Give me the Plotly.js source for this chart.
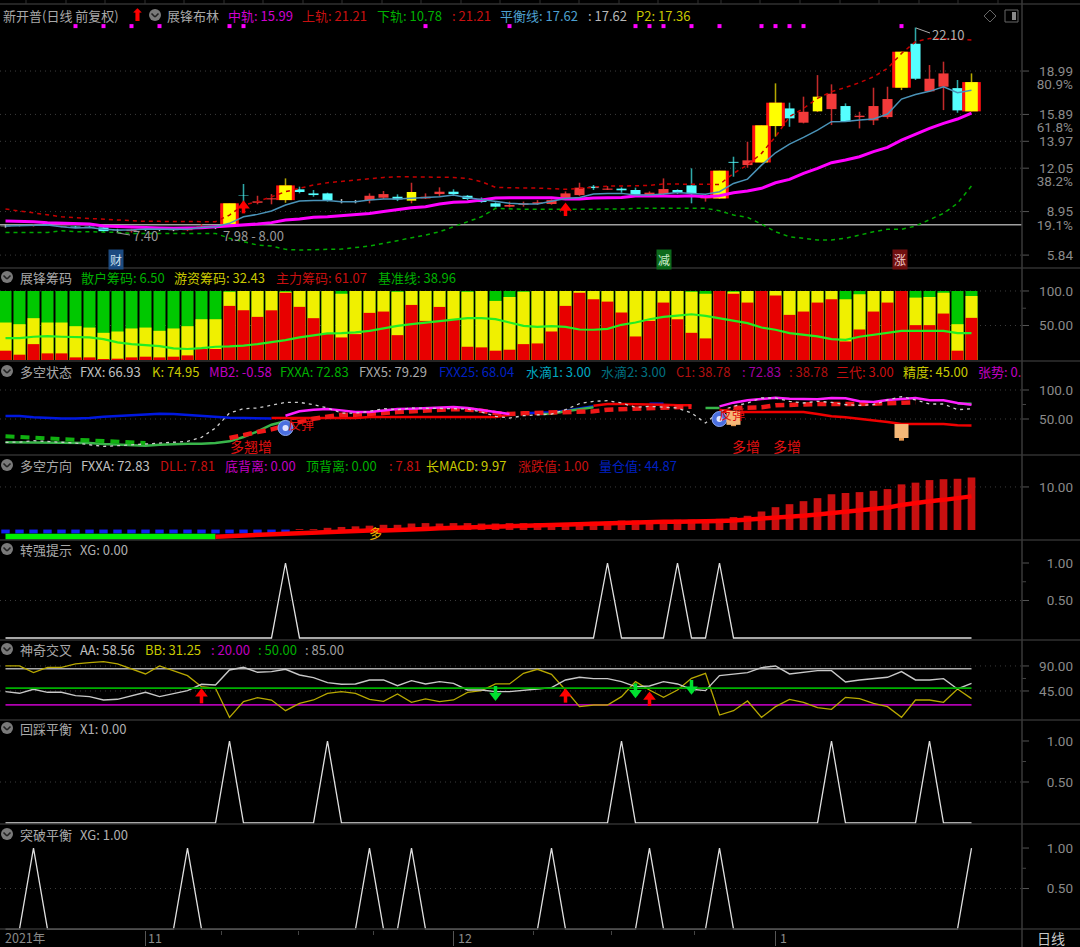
<!DOCTYPE html>
<html><head><meta charset="utf-8">
<script src="https://cdn.plot.ly/plotly-3.0.1.min.js"></script>
<style>html,body{margin:0;padding:0;background:#000}#c{width:1080px;height:947px}</style></head>
<body><div id="c"></div>
<script>
const W=1080,H=947,STEP=14,X0=5.5,RIGHT=1022;
const gap=n=>Array(n).fill(null);
const idx=Array.from({length:70},(_,i)=>i);

const kindList=['w','w','r','c','r','c','c','c','w','r','w','w','w','r','r','w','B','c','r','r','B','c','c','c','w','w','r','r','c','y','r','r','c','c','c','c','r','r','r','r','r','r','c','r','c','c','r','r','c','c','r','B','c','r','B','B','c','r','y','r','c','r','r','r','B','c','r','r','c','B'];
const open =[7.90,7.95,7.93,8.02,7.87,7.88,7.87,7.82,7.60,7.55,7.68,7.64,7.62,7.62,7.81,7.78,8.06,10.10,9.58,9.82,9.77,10.54,10.25,10.25,9.70,9.64,9.77,9.94,10.01,9.73,9.89,10.20,10.37,10.08,9.82,9.54,9.30,9.42,9.49,9.49,9.87,10.13,10.73,10.51,10.59,10.49,10.11,10.20,10.49,10.82,9.89,9.89,12.50,12.27,12.46,15.06,16.32,15.30,16.11,16.27,16.49,15.70,15.46,15.70,17.80,20.94,17.54,17.87,17.77,16.11];
const high =[8.02,8.00,8.02,8.06,7.95,7.92,7.92,7.85,7.72,7.72,7.75,7.72,7.72,7.72,8.06,7.88,9.54,10.92,10.08,10.20,11.32,10.73,10.49,10.30,9.85,9.78,10.25,10.42,10.18,11.01,10.25,10.68,10.54,10.13,9.96,9.61,9.66,9.66,9.77,9.82,10.39,11.01,10.85,10.77,10.68,10.66,10.39,11.32,10.54,12.04,10.13,11.87,12.87,13.94,15.11,18.11,16.73,17.16,18.70,18.04,16.68,16.08,17.80,17.87,20.37,22.10,19.42,19.66,18.35,18.82];
const low  =[7.80,7.90,7.88,7.95,7.83,7.76,7.77,7.50,7.40,7.45,7.55,7.55,7.55,7.55,7.72,7.70,8.00,9.58,9.47,9.47,9.58,10.25,10.01,9.66,9.54,9.54,9.54,9.85,9.70,9.54,9.85,10.06,10.06,9.77,9.58,9.25,9.25,9.30,9.42,9.44,9.77,10.08,10.49,10.49,10.30,10.08,10.01,10.13,10.20,9.54,9.66,9.85,11.44,12.08,12.46,14.30,15.01,15.25,16.06,15.13,15.35,14.89,15.13,15.58,17.63,18.35,17.49,16.20,16.01,16.11];
const close=[7.93,7.97,7.99,7.98,7.92,7.80,7.82,7.55,7.62,7.66,7.70,7.66,7.67,7.72,7.88,7.82,9.54,10.07,9.68,9.90,10.82,10.35,10.13,9.77,9.66,9.67,10.08,10.20,9.82,10.35,10.01,10.37,10.20,9.85,9.63,9.30,9.42,9.54,9.61,9.77,10.25,10.66,10.63,10.59,10.47,10.13,10.30,10.56,10.30,10.25,10.06,11.87,12.44,12.61,15.11,16.73,15.61,16.08,17.16,17.37,15.39,15.80,16.49,16.99,20.37,18.44,18.44,18.82,16.18,18.20];
const midBand=[8.27,8.27,8.23,8.16,8.13,8.06,8.06,7.92,7.87,7.87,7.82,7.77,7.75,7.75,7.80,7.87,7.92,7.96,8.06,8.16,8.35,8.42,8.54,8.58,8.66,8.75,8.82,8.96,9.11,9.23,9.30,9.49,9.61,9.66,9.77,9.92,9.94,9.94,9.94,9.94,9.85,9.85,9.92,9.96,9.96,10.06,10.08,10.06,10.04,10.08,10.01,10.08,10.30,10.42,10.61,11.01,11.25,11.68,12.04,12.44,12.63,12.87,13.23,13.54,14.06,14.49,14.89,15.25,15.56,15.99];
const balance=[7.92,7.94,7.99,7.99,7.87,7.77,7.82,7.68,7.63,7.63,7.70,7.68,7.68,7.68,7.82,7.87,8.11,8.58,8.75,8.99,9.42,9.70,9.75,9.75,9.66,9.66,9.77,9.85,9.85,9.89,9.96,10.01,10.13,9.94,9.82,9.66,9.54,9.49,9.49,9.68,9.89,9.96,10.20,10.25,10.25,10.13,10.13,10.20,10.32,10.25,10.18,10.37,10.96,11.27,12.27,13.15,13.77,14.25,14.77,15.37,15.39,15.49,15.56,15.92,16.99,17.32,17.54,17.87,17.44,17.62];
const upperBand=[9.13,8.99,8.87,8.70,8.58,8.51,8.46,8.39,8.35,8.27,8.25,8.25,8.23,8.23,8.23,8.23,8.70,9.42,9.66,10.01,10.37,10.61,10.85,11.01,11.11,11.20,11.32,11.39,11.44,11.44,11.44,11.44,11.39,11.32,11.08,10.68,10.63,10.63,10.63,10.61,10.54,10.61,10.68,10.77,10.77,10.80,10.82,10.92,10.92,10.92,10.89,10.89,11.68,12.27,13.11,14.30,15.73,16.32,17.04,17.51,17.82,18.16,18.58,19.18,20.25,21.08,21.32,21.32,21.27,21.21];
const lowerBand=[7.46,7.46,7.46,7.46,7.58,7.51,7.51,7.51,7.46,7.39,7.39,7.39,7.39,7.39,7.39,7.39,7.04,6.80,6.56,6.49,6.25,6.20,6.20,6.25,6.27,6.39,6.49,6.68,6.87,7.11,7.27,7.51,7.87,8.23,8.58,9.18,9.13,9.11,9.11,9.11,9.11,9.11,9.11,9.11,9.13,9.18,9.18,9.18,9.18,9.18,9.18,9.01,8.70,8.54,8.06,7.51,7.15,7.04,6.92,6.92,7.04,7.27,7.51,7.68,7.68,7.92,8.35,8.82,9.54,10.78];
const signalDots=[5,7,9,11,16,17,30,36,45,46,47,49,51,54,55,56,57,64];

const mainChipTop=[13.5,7.7,23,9.6,9.6,3.8,3.8,1.4,1.9,3.8,4.8,3.8,4.8,6.7,15.9,15.9,78.4,72.1,62.5,72,97.6,77,60.6,37.5,32.7,37.5,68.3,70.2,36,79.8,56.7,76.9,59,19.2,18.3,13.5,14.9,23,24,41.3,78.4,97.6,88,84.6,68.8,34.1,56.7,83.2,59,39.4,31.3,100,96,83.2,100,93.3,65.4,70.2,83.2,88,26.9,44.2,70.2,83.2,100,50.5,50.5,67.3,13.5,61.07];
const hotChipTop=[54.3,51.9,60.6,54.3,54.3,49,47,39.4,41.3,45.7,47,42.3,45.7,49,59.1,59.1,99,100,100,100,99,100,100,100,96,100,100,100,99,100,100,100,100,99,100,85.6,91.3,99,100,100,100,100,100,100,100,100,100,100,100,99,96,100,99,100,100,100,100,100,100,100,88,95.2,100,100,100,90.4,91.3,97.6,51.9,92.8];
const retailChipTop=idx.map(()=>100);
const chipBase=[31.7,31.7,33.7,34.6,33.7,33.7,32.7,30.3,25.5,23.1,22.1,20.2,16.8,15.9,17.3,19.2,19.7,20.7,23.1,25.5,28.8,32.7,36.1,38.5,38.9,39.9,42.3,46.2,49.5,51.9,54.3,56.7,59.1,60.6,60.6,59.1,54.3,49.5,48.1,49,48.1,44.2,43.8,45.2,51,54.3,59.1,62.5,64.4,66.3,63.9,60.6,57.7,53.4,47.1,43.8,38.9,36.5,34.1,30.3,29.3,33.7,36.5,39.4,42.3,42.3,42.3,42.3,38.9,38.96];

const fxx25=[55.2,55.2,52.9,51.7,51.1,51.1,51.7,54,55.2,56.3,58.6,59.2,58.6,56.9,56.3,54.6,52.3,51.7,51.1,51.1,...gap(17),59.8,60.3,61.5,64.4,67.8,71.8,null,null,null,76.4,76.4,null,null,70.7,...gap(19)];
const fxxa=[9.8,9.8,9.8,9.8,9.8,9.8,8.6,6.9,5.7,4.6,4,5.7,6.9,7.5,7.5,8.6,11.5,19,28.7,40.2,46,...gap(17),58.6,59.2,63.2,66.1,70.1,...gap(7),69,69,...gap(16),76.4,76.4];
const mb2=[...gap(20),55.7,63.2,66.1,67.2,64.9,62.1,62.1,64.4,67.2,67.8,69,70.7,70.7,69,66.1,62.1,58.6,...gap(14),71.8,78.2,82.2,84.5,86.8,85,83.9,83.9,86.2,85.6,80.5,79.3,82.8,85,86.2,82.2,82.2,77.6,74.7];
const fxx=[9.8,10.3,12.6,11.5,10.9,8.6,5.7,2.9,4,5.7,6.9,8,9.8,11.5,18.4,34.5,60.3,67.8,69,73.6,78.7,78.7,74.7,69,60.3,60.3,63.2,67.8,66.1,69,69,69,67.8,67.2,62.1,54.6,51.7,55.7,57.5,58.6,66.1,76.4,80.5,81.6,77.6,70.1,71.8,70.1,69,60.3,43.1,63.2,71.8,77.6,86.2,86.2,80.5,77.6,80.5,78.7,74.7,73.6,74.7,82.8,88.5,82.8,75.9,75.9,66.1,67.8];
const c1=[...gap(19),51.7,51.7,51.7,51.7,51.7,51.7,51.7,53.4,53.4,53.4,53.4,53.4,53.4,53.4,53.4,53.4,53.4,57.5,...gap(5),73,75.9,75.9,75.9,75.9,74.7,73.6,73.6,null,66.1,62.1,62.1,62.1,62.1,62.1,62.1,58.6,54.6,52.9,50.6,48.3,44.8,41.4,41.4,41.4,41.4,39.1,38.78];
const kLine=[...gap(16),17.2,23,27.6,32.2,39.1,44.8,50.6,53.4,57.5,57.5,59.8,60.3,62.1,63.2,64.4,66.1,67.2,66.1,64.4,60.3,58.6,59.8,60.3,61.5,62.1,62.1,63.2,66.1,67.2,68.4,69.5,70.7,70.7,71.3,null,null,69,69,70.1,73.6,74.7,74.7,75.9,75.9,75,76,76.5,77.6,78.7,78.7,...gap(4)];
const kEarly=[20.1,19,17.2,16.7,15.5,14.4,12.6,12.1,10.9,9.8,8.6,...gap(59)];

const macdBars=[...gap(20),0,.2,.2,.5,.7,.85,1.0,1.2,1.2,1.5,1.6,1.5,1.6,1.6,1.5,1.5,1.6,1.6,1.6,1.6,1.6,1.8,1.9,1.9,2.2,2.2,2.2,2.3,2.4,2.4,2.2,2.6,3.0,3.3,4.3,5.3,6.0,6.7,7.4,8.3,8.6,8.8,9.1,9.5,10.6,11.0,11.6,11.8,11.9,12.2];
const dll=[...gap(15),-1.55,-1.4,-1.3,-1.2,-1.0,-1.0,-.8,-.7,-.6,-.4,-.3,-.1,-.1,.1,.2,.25,.4,.5,.7,.8,.9,1.0,1.1,1.1,1.2,1.3,1.4,1.5,1.5,1.6,1.7,1.8,1.9,1.9,1.9,2.0,2.1,2.2,2.4,2.5,2.8,3.0,3.3,3.6,3.9,4.2,4.5,4.8,5.2,5.8,6.3,6.7,7.0,7.4,7.81];
const dllEarly=[-1.55,-1.55,-1.55,-1.55,-1.55,-1.55,-1.55,-1.55,-1.55,-1.55,-1.55,-1.55,-1.55,-1.55,-1.55,-1.55,...gap(54)];
const positionBars=[.9,.9,.9,.9,.9,.9,.9,.9,.9,.9,.9,.9,.9,.9,.9,.9,.9,.9,.9,.9,.9,...gap(49)];

const aa=[43.8,40.8,48,42.6,42.6,36.6,34.8,28.8,30,36.6,42.6,34.8,39.6,45.6,57,55.8,82.8,87.6,78.6,79.8,84,73.8,69,60,57,57.6,64.8,64.8,54.6,63.6,57.6,61.8,58.8,46.8,46.8,43.8,43.8,46.8,48.6,51,64.8,69.6,67.2,67.2,61.8,52.8,54,61.8,57.6,48,45.6,72.6,75,78,87,90,75.6,78,81.6,81.6,61.2,64.8,67.2,69.6,79.8,64.8,64.8,67.2,48.6,58.56];
const bb=[90,90,78,87.6,87.6,93.6,96,97.8,93.6,84,75.6,90,81.6,72.6,52.8,49.8,-2.4,25.8,33,28.8,9.6,22.8,28.8,40.8,43.8,40.8,30,26.4,39.6,24.6,30.6,25.8,28.8,42.6,45.6,57.6,57.6,76.8,84,75,46.8,16.8,19.8,19.8,34.8,61.8,46.8,33.6,46.8,67.8,76.8,1.8,9.6,27,-2.4,16.8,30,24.6,15,12,33.6,31.2,22.8,16.8,-2.4,28.8,28.8,24.6,48.6,31.25];
const ref20=idx.map(()=>20),ref50=idx.map(()=>50),ref85=idx.map(()=>85);
const strongPeaks=[20,43,48,51], pullbackPeaks=[16,23,44,59,66], breakoutPeaks=[2,13,26,29,39,46,51,69];

const panels=[
 {top:4,bot:267,vTop:23.78,vBot:4.99,tv:[18.99,15.89,13.97,12.05,8.95,5.84,18.06,15.0,11.14,8.0],tt:['18.99','15.89','13.97','12.05','8.95','5.84','80.9%','61.8%','38.2%','19.1%'],grid:[18.99,15.89,13.97,12.05,8.95,5.84],marks:[18.99,15.89,13.97,12.05,8.95,5.84],minor:[]},
 {top:272,bot:362,vTop:127.5,vBot:-2.9,tv:[100,50],tt:['100.0','50.00'],grid:[100,50],marks:[100,50],minor:[75]},
 {top:372,bot:455,vTop:131,vBot:-12,tv:[100,50],tt:['100.0','50.00'],grid:[100,50],marks:[100,50],minor:[75]},
 {top:462,bot:540,vTop:15.8,vBot:-2.33,tv:[10],tt:['10.00'],grid:[10],marks:[10],minor:[]},
 {top:545,bot:640,vTop:1.24,vBot:-.027,tv:[1,.5],tt:['1.00','0.50'],grid:[.5],marks:[1,.5],minor:[.75]},
 {top:645,bot:720,vTop:127.7,vBot:-7.2,tv:[90,45],tt:['90.00','45.00'],grid:[90,45],marks:[90,45],minor:[67.5]},
 {top:725,bot:824,vTop:1.195,vBot:-.012,tv:[1,.5],tt:['1.00','0.50'],grid:[.5],marks:[1,.5],minor:[.75]},
 {top:832,bot:930,vTop:1.198,vBot:-.012,tv:[1,.5],tt:['1.00','0.50'],grid:[.5],marks:[1,.5],minor:[.75]}
];
const rule=[268,361,455,540,640,720,824,929];

const T=[],shapes=[],ann=[];
const ya=n=>n===1?'y':'y'+n;
function line(y,n,color,width,dash,extra){T.push(Object.assign({type:'scatter',mode:'lines',x:idx,y,yaxis:ya(n),line:{color,width,dash:dash||'solid'},connectgaps:false,hoverinfo:'skip'},extra||{}));}
function bars(xs,y,base,n,color,w){T.push({type:'bar',x:xs,y,base,yaxis:ya(n),width:w,marker:{color,line:{width:0}},hoverinfo:'skip'});}
function arrow(i,tail,tip,head,n,color){
  T.push({type:'scatter',mode:'lines',x:[i,i],y:[tail,tip],yaxis:ya(n),line:{color,width:3.5},hoverinfo:'skip'});
  T.push({type:'scatter',mode:'markers',x:[i],y:[head],yaxis:ya(n),marker:{symbol:tip>tail?'triangle-up':'triangle-down',size:11,color},hoverinfo:'skip'});
}
function label(x,y,text,color,o){o=o||{};ann.push({xref:'paper',yref:'paper',x:x/W,y:1-y/H,text,showarrow:false,xanchor:o.anchor||'left',yanchor:'middle',align:'left',borderpad:o.pad||0,bgcolor:o.bg,font:{family:o.family||'"Noto Sans CJK SC","Noto Sans",sans-serif',size:o.size||13,color}});}
function pxLine(x0,y0,x1,y1,color,w){shapes.push({type:'line',xref:'paper',yref:'paper',x0:x0/W,x1:x1/W,y0:1-y0/H,y1:1-y1/H,line:{color,width:w||1},layer:'above'});}
function icon(x,y){
  shapes.push({type:'circle',xref:'paper',yref:'paper',x0:(x-6)/W,x1:(x+6)/W,y0:1-(y+6)/H,y1:1-(y-6)/H,fillcolor:'#7a7a7a',line:{width:0},layer:'above'});
  pxLine(x-3.5,y-1.5,x,y+2,'#222',1.6);pxLine(x+3.5,y-1.5,x,y+2,'#222',1.6);
}

/* ---- main: candles ---- */
const pick=(k)=>idx.filter(i=>kindList[i]===k);
const wickCol={w:'#bbbbbb',r:'#c22a2a',c:'#2fa8a8',y:'#c22a2a',B:'#b5a800'};
['w','r','c','y','B'].forEach(k=>{const s=pick(k);bars(s,s.map(i=>high[i]-low[i]),s.map(i=>low[i]),1,wickCol[k],0.11);});
const body=(k,col,w)=>{const s=pick(k);bars(s,s.map(i=>Math.abs(close[i]-open[i])),s.map(i=>Math.min(open[i],close[i])),1,col,w);};
body('w','#d8d8d8',.72);body('r','#f23a3a',.72);body('c','#55ffff',.72);body('y','#ffff00',.68);body('B','#ff1010',1.33);body('B','#ffff00',.9);
line(upperBand,1,'#c40000',1.5,'4px,4px');
line(lowerBand,1,'#00a800',1.5,'4px,4px');
line(midBand,1,'#ff00ff',3);
line(balance,1,'#4a93b8',1.5);
T.push({type:'scatter',mode:'markers',x:signalDots,y:signalDots.map(()=>22.2),yaxis:'y',marker:{symbol:'square',size:4,color:'#ff00ff'},hoverinfo:'skip'});
arrow(17,8.82,9.4,9.37,1,'#ff0000');
arrow(40,8.63,9.25,9.2,1,'#ff0000');

/* ---- chips ---- */
bars(idx,retailChipTop,idx.map(()=>0),2,'#00c800',.86);
bars(idx,hotChipTop,idx.map(()=>0),2,'#f0f000',.86);
bars(idx,mainChipTop,idx.map(()=>0),2,'#e80000',.86);
line(chipBase,2,'#22ee22',2.2);

/* ---- state ---- */
line(fxx25,3,'#0018e0',2.5);
line(fxxa,3,'#39b54a',2.5);
line(kEarly,3,'#10b010',4,'9px,6px');
line(c1,3,'#f00000',2.5);
line(kLine,3,'#f01818',4.5,'9px,5px');
line(mb2,3,'#ff20ff',2.5);
line(fxx,3,'#cccccc',1.3,'3px,4px');
T.push({type:'scatter',mode:'markers',x:[20,51],y:[34.5,50],yaxis:'y3',marker:{symbol:'circle',size:15,color:'#4a6fe0',line:{color:'#8fa8f0',width:1}},hoverinfo:'skip'});
T.push({type:'scatter',mode:'markers',x:[20,51],y:[34.5,50],yaxis:'y3',marker:{symbol:'circle',size:6,color:'#dfe4ff'},hoverinfo:'skip'});
T.push({type:'scatter',mode:'markers',x:[52,64],y:[42,17],yaxis:'y3',marker:{symbol:'square',size:5,color:'#e89a50'},hoverinfo:'skip'});
T.push({type:'scatter',mode:'markers',x:[52,64],y:[52,29.3],yaxis:'y3',marker:{symbol:'square',size:14,color:'#f5b878'},hoverinfo:'skip'});

/* ---- direction ---- */
bars(idx,positionBars,idx.map(()=>-.8),4,'#1020f0',.6);
bars(idx,macdBars,idx.map(()=>0),4,'#c81010',.55);
line(dllEarly,4,'#00f000',6);
line(dll,4,'#ff0000',4.5);

/* ---- triggers ---- */
line(idx.map(i=>strongPeaks.includes(i)?1:0),5,'#e0e0e0',1.3);
line(idx.map(i=>pullbackPeaks.includes(i)?1:0),7,'#e0e0e0',1.3);
line(idx.map(i=>breakoutPeaks.includes(i)?1:0),8,'#e0e0e0',1.3);

/* ---- cross ---- */
line(ref85,6,'#aaaaaa',1.6);
line(ref20,6,'#b000b0',1.8);
line(bb,6,'#b8a800',1.3);
line(aa,6,'#c8c8c8',1.4);
line(ref50,6,'#00b000',1.8);
arrow(14,22.8,46,40,6,'#ff0000');
arrow(40,24,46,40,6,'#ff0000');
arrow(46,18,40,34,6,'#ff0000');
arrow(35,54,32,37,6,'#00e030');
arrow(45,58.8,36,42,6,'#00e030');
arrow(49,64.8,42,48,6,'#00e030');

/* ---- axes ---- */
const layout={width:W,height:H,margin:{l:0,r:0,t:0,b:0},paper_bgcolor:'#000',plot_bgcolor:'#000',showlegend:false,barmode:'overlay',hovermode:false,font:{family:'Roboto',color:'#888'},
 xaxis:{domain:[0,1],range:[-X0/STEP,(W-X0)/STEP],anchor:'y8',showgrid:false,zeroline:false,showline:false,showticklabels:false,tickmode:'array',tickvals:[10,32,55],ticks:'outside',ticklen:15,tickcolor:'#555',tickwidth:1,minor:{tickmode:'array',tickvals:[15.4,20.9,26.3,37.7,43.3,49.2],ticks:'outside',ticklen:4,tickcolor:'#444'}}};
panels.forEach((p,k)=>{
  const n=k+1;
  layout[n===1?'yaxis':'yaxis'+n]={domain:[1-p.bot/H,1-p.top/H],range:[p.vBot,p.vTop],anchor:'free',position:1076/W,side:'right',ticklabelposition:'inside',tickmode:'array',tickvals:p.tv,ticktext:p.tt,ticks:'',showgrid:false,zeroline:false,showline:false,tickfont:{family:'Roboto',size:13.5,color:'#8a8a8a'}};
  const ref=ya(n);
  p.grid.forEach(v=>{
    shapes.push({type:'line',xref:'paper',yref:ref,x0:0,x1:RIGHT/W,y0:v,y1:v,line:{color:'#3c3c3c',width:1,dash:'1px,4px'},layer:'below'});
  });
  p.marks.forEach(v=>{
    shapes.push({type:'line',xref:'paper',yref:ref,x0:RIGHT/W,x1:(RIGHT+7)/W,y0:v,y1:v,line:{color:'#555',width:1},layer:'above'});
  });
  p.minor.forEach(v=>{
    shapes.push({type:'line',xref:'paper',yref:ref,x0:RIGHT/W,x1:(RIGHT+4)/W,y0:v,y1:v,line:{color:'#444',width:1},layer:'above'});
  });
});
// key line on the price panel
shapes.push({type:'line',xref:'paper',yref:'y',x0:0,x1:RIGHT/W,y0:8.0,y1:8.0,line:{color:'#a0a0a0',width:1.5},layer:'below'});
// frame
rule.forEach(y=>pxLine(0,y,W,y,'#303030',1.5));
pxLine(0,4,W,4,'#303030',1.5);
pxLine(RIGHT,0,RIGHT,H,'#383838',1.5);
[26,66,105,145,184,224,263,303,342,382,421,461,500,540,579,619,658,698,721,760,800,840,879,919,958,998].forEach(x=>pxLine(x,0,x,4,'#303030',1));

/* ---- text ---- */
const G='#a8a8a8';
label(2,15,'新开普(日线 前复权)',G);
label(129,15,'⬆','#ff0000',{family:'DejaVu Sans',size:17});
icon(155,15);
label(166,15,'展锋布林',G);
label(227,15,'中轨: 15.99','#d000d0');
label(301,15,'上轨: 21.21','#c81010');
label(376,15,'下轨: 10.78','#00b000');
label(451,15,': 21.21','#c81010');
label(499,15,'平衡线: 17.62','#4da0d0');
label(587,15,': 17.62','#b8b8b8');
label(635,15,'P2: 17.36','#c8c800');
[[277,'展锋筹码',[[80,'散户筹码: 6.50','#00b000'],[173,'游资筹码: 32.43','#c8c800'],[275,'主力筹码: 61.07','#c81010'],[377,'基准线: 38.96','#00b000']]],
 [371,'多空状态',[[79,'FXX: 66.93','#c0c0c0'],[151,'K: 74.95','#c8c800'],[208,'MB2: -0.58','#c000c0'],[279,'FXXA: 72.83','#00b000'],[358,'FXX5: 79.29','#a8a8a8'],[438,'FXX25: 68.04','#0020c0'],[525,'水滴1: 3.00','#00a8c0'],[600,'水滴2: 3.00','#007080'],[675,'C1: 38.78','#b01010'],[741,': 72.83','#a000a0'],[788,': 38.78','#b01010'],[835,'三代: 3.00','#c81010'],[902,'精度: 45.00','#c8c800'],[977,'张势: 0.','#c000c0']]],
 [465,'多空方向',[[80,'FXXA: 72.83','#c0c0c0'],[159,'DLL: 7.81','#c81010'],[224,'底背离: 0.00','#c000c0'],[305,'顶背离: 0.00','#00b000'],[388,': 7.81','#c81010'],[425,'长MACD: 9.97','#c8c800'],[517,'涨跌值: 1.00','#c81010'],[598,'量仓值: 44.87','#0020c0']]],
 [549,'转强提示',[[79,'XG: 0.00','#b0b0b0']]],
 [649,'神奇交叉',[[79,'AA: 58.56','#c0c0c0'],[144,'BB: 31.25','#c8c800'],[210,': 20.00','#c000c0'],[257,': 50.00','#00b000'],[304,': 85.00','#a0a0a0']]],
 [728,'回踩平衡',[[79,'X1: 0.00','#b0b0b0']]],
 [834,'突破平衡',[[79,'XG: 1.00','#b0b0b0']]]
].forEach(([y,name,items])=>{icon(7,y);label(19,y,name,G);items.forEach(([x,t,c])=>label(x,y,t,c));});
label(132,235,'7.40','#999');pxLine(118,233,130,235,'#999',1);
label(222,236,'7.98 - 8.00','#999');
label(931,34,'22.10','#b0b0b0');pxLine(916,28,930,33,'#aaa',1);
label(116,259,'财','#cfe0f0',{anchor:'center',bg:'#1c4a80',pad:1,size:12});
label(664,259,'减','#d0f0d0',{anchor:'center',bg:'#0c6a1c',pad:1,size:12});
label(900,259,'涨','#f0c8c8',{anchor:'center',bg:'#701010',pad:1,size:12});
label(229,446,'多翘增','#e01010',{size:14});
label(731,446,'多增','#e01010',{size:14});label(772,446,'多增','#e01010',{size:14});
label(287,423,'反弹','#e01010',{size:13});label(718,413,'反弹','#e01010',{size:13});
label(368,532,'多','#e8b000',{size:13});
label(4,937.5,'2021年','#8a8a8a',{size:12.5});label(147,937.5,'11','#8a8a8a',{size:12.5});label(457,937.5,'12','#8a8a8a',{size:12.5});label(779,937.5,'1','#8a8a8a',{size:12.5});
label(1036,937.5,'日线','#c8c8c8',{size:14});
// top right icons
shapes.push({type:'path',xref:'paper',yref:'paper',path:`M ${984/W} ${1-16/H} L ${990/W} ${1-10/H} L ${996/W} ${1-16/H} L ${990/W} ${1-22/H} Z`,line:{color:'#666',width:1},layer:'above'});
shapes.push({type:'rect',xref:'paper',yref:'paper',x0:1005/W,x1:1018/W,y0:1-22/H,y1:1-10/H,line:{color:'#666',width:1},layer:'above'});
shapes.push({type:'rect',xref:'paper',yref:'paper',x0:1012/W,x1:1016/W,y0:1-20/H,y1:1-12/H,fillcolor:'#888',line:{width:0},layer:'above'});

layout.shapes=shapes;layout.annotations=ann;
Plotly.newPlot('c',T,layout,{displayModeBar:false,staticPlot:true});
</script></body></html>
